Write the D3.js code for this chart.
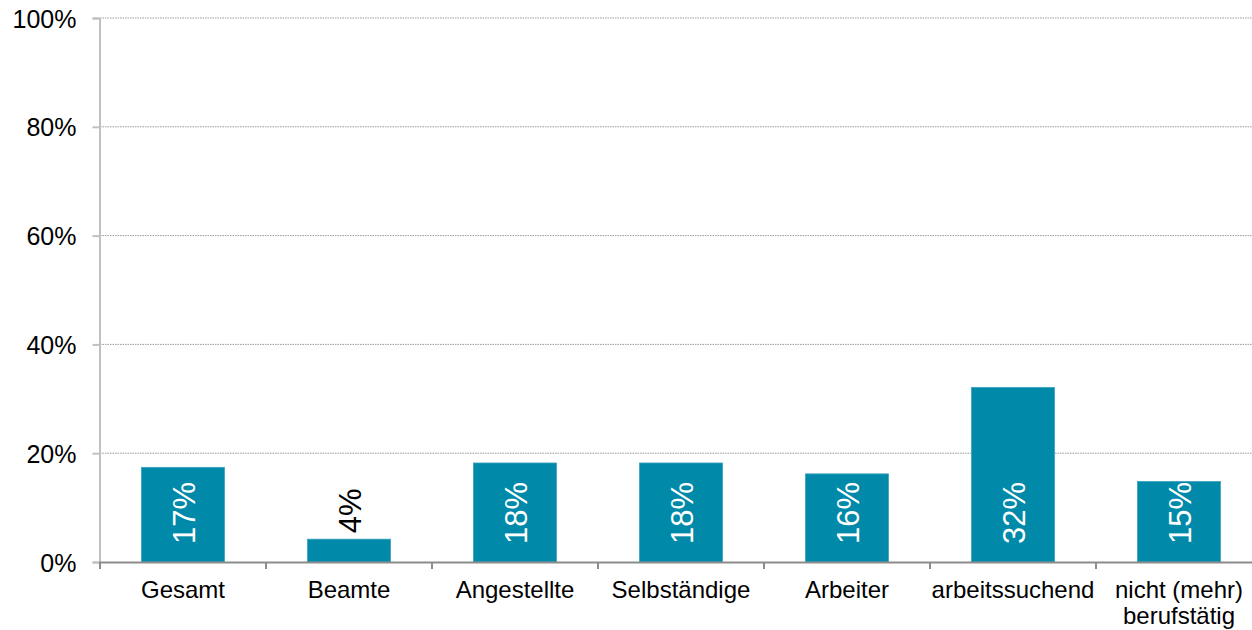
<!DOCTYPE html>
<html><head><meta charset="utf-8">
<script src="https://cdn.jsdelivr.net/npm/d3@7"></script>
<style>body{margin:0;background:#fff}svg{display:block}text{font-family:"Liberation Sans",Arial,sans-serif}</style>
</head><body><svg id="c" width="1252" height="630"></svg>
<script>
const categories = ["Gesamt","Beamte","Angestellte","Selbständige","Arbeiter","arbeitssuchend","nicht (mehr)\nberufstätig"];
const values = [17.4, 4.2, 18.2, 18.2, 16.2, 32.1, 14.8];
const labels = ["17%","4%","18%","18%","16%","32%","15%"];
const yTicks = [0,20,40,60,80,100];

const svg = d3.select("#c");
const x = d3.scaleBand().domain(categories).range([100,1262]).paddingInner(0.5).paddingOuter(0.25);
const y = d3.scaleLinear().domain([0,100]).range([562,18]);

// gridlines
svg.append("g").selectAll("line").data(yTicks.filter(d=>d>0)).join("line")
  .attr("x1",100).attr("x2",1252).attr("y1",d=>y(d)).attr("y2",d=>y(d))
  .attr("stroke","#999").attr("stroke-width",1).attr("stroke-dasharray","1.5,1");

// y axis
const ya = svg.append("g").attr("transform","translate(99.5,0)")
  .call(d3.axisLeft(y).tickValues(yTicks).tickFormat(d=>d+"%").tickSize(7).tickPadding(16));
ya.select(".domain").attr("stroke","#c0c0c0").attr("stroke-width",2);
ya.selectAll(".tick line").attr("stroke","#c0c0c0").attr("stroke-width",2);
ya.selectAll(".tick text").attr("font-size",25).attr("fill","#000").attr("font-family","Liberation Sans, Arial, sans-serif").attr("dy","0.36em");

// bars
svg.append("g").selectAll("rect").data(values).join("rect")
  .attr("x",(d,i)=>x(categories[i])).attr("width",x.bandwidth())
  .attr("y",d=>y(d)).attr("height",d=>y(0)-y(d))
  .attr("fill","#0089a8").attr("stroke","#3aa3bd").attr("stroke-width",0.8);

// x axis
const step = x.step();
const bounds = d3.range(categories.length+1).map(i=>100+i*step);
svg.append("line").attr("x1",99).attr("x2",1252).attr("y1",562.5).attr("y2",562.5)
  .attr("stroke","#8c8c8c").attr("stroke-width",2);
svg.append("g").selectAll("line").data(bounds).join("line")
  .attr("x1",d=>d).attr("x2",d=>d).attr("y1",562).attr("y2",569)
  .attr("stroke","#8c8c8c").attr("stroke-width",2);

// category labels
const cl = svg.append("g").selectAll("text").data(categories).join("text")
  .attr("x",d=>x(d)+x.bandwidth()/2).attr("y",598)
  .attr("text-anchor","middle").attr("font-size",24).attr("fill","#000");
cl.each(function(d){
  const t = d3.select(this);
  d.split("\n").forEach((s,k)=>t.append("tspan").attr("x",x(d)+x.bandwidth()/2).attr("dy",k?26:0).text(s));
});

// value labels
svg.append("g").selectAll("text").data(values).join("text")
  .attr("transform",(d,i)=>{
    const cx = x(categories[i])+x.bandwidth()/2 + 12;
    const inside = y(0)-y(d) > 70;
    const yy = inside ? 544 : y(d)-6;
    return `translate(${cx},${yy}) rotate(-90)`;
  })
  .attr("font-size",31)
  .attr("fill",d=>(y(0)-y(d) > 70)?"#fff":"#000")
  .text((d,i)=>labels[i]);
</script></body></html>
